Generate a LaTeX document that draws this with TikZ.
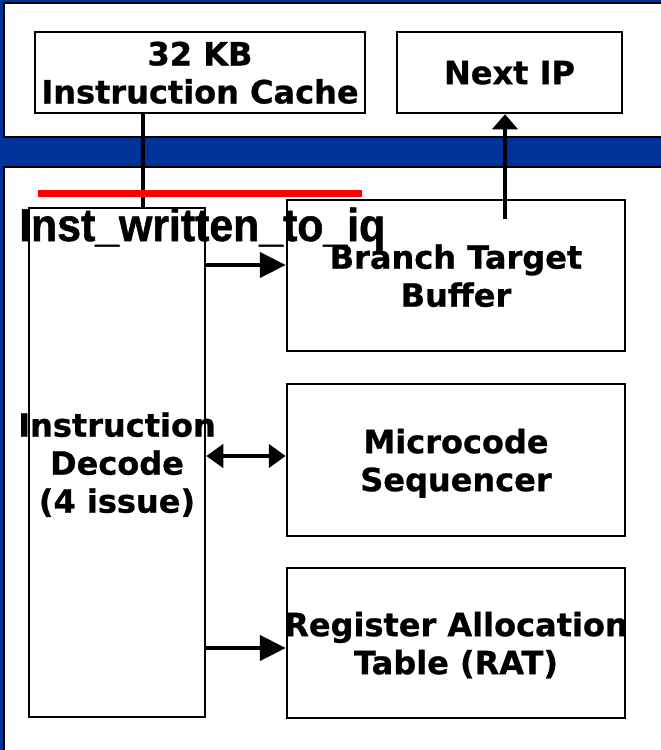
\documentclass[tikz,border=0pt]{standalone}
\usepackage{fontspec}
\usetikzlibrary{arrows.meta}
\newfontfamily\blockfont[FakeBold=0.8]{DejaVu Sans}
\newfontfamily\sigfont[FakeStretch=0.93, FakeBold=1.2]{Liberation Sans}
\definecolor{slideblue}{RGB}{0,51,153}
\definecolor{sigred}{RGB}{255,0,0}
\tikzset{
  panel/.style={fill=white, draw=black, line width=2pt},
  block/.style={draw=black, line width=2.5pt, fill=white, inner sep=0pt, text depth=0pt,
    align=center, font=\blockfont\bfseries\fontsize{32}{38}\selectfont},
  wire/.style={line width=4.5pt},
  conn/.style={line width=4.5pt, -{Triangle[length=26pt,width=25pt]}},
  biconn/.style={line width=4.5pt, {Triangle[length=17pt,width=23pt]}-{Triangle[length=17pt,width=23pt]}},
  upconn/.style={line width=4.5pt, -{Triangle[length=15pt,width=25pt]}},
}
\begin{document}
\begin{tikzpicture}[x=1pt, y=-1pt]
\useasboundingbox (0,0) rectangle (661,750);
% backdrop and the two white panels
\fill[slideblue] (0,0) rectangle (661,750);
\draw[panel] (4,3) rectangle (675,137);
\draw[panel] (4,167) rectangle (675,765);

% front-end blocks
\node[block, minimum width=330pt, minimum height=81pt] (cache) at (200,72.5) {32 KB\\Instruction Cache};
\node[block, minimum width=225pt, minimum height=81pt] (nextip) at (509.5,72.5) {Next IP};
\node[block, minimum width=176pt, minimum height=509pt] (decode) at (117,462.5)
  {\makebox[0pt]{Instruction}\\Decode\\(4 issue)};
\node[block, minimum width=338pt, minimum height=151pt] (btb) at (456,275.5) {Branch Target\\Buffer};
\node[block, minimum width=338pt, minimum height=152pt] (mseq) at (456,460) {Microcode\\Sequencer};
\node[block, minimum width=338pt, minimum height=150pt] (rat) at (456,643)
  {\makebox[0pt]{Register Allocation}\\Table (RAT)};

% tap points for the connectors
\coordinate (cachetap) at (143,113);
\coordinate (btbtap) at (505,219);
\coordinate (btbrow) at (206,265);
\coordinate (msrow) at (206,456);
\coordinate (ratrow) at (206,648);

% fetch line from the cache into decode
\draw[wire] (cache.south -| cachetap) -- (decode.north -| cachetap);
% signal marker
\draw[sigred, line width=7pt] (38,193) -- (362,193);
\node[font=\sigfont\bfseries\fontsize{46}{50}\selectfont, anchor=base west, inner sep=0pt] (iqlabel) at (19,241) {Inst\_written\_to\_iq};

% connectors
\draw[conn] (decode.east |- btbrow) -- (btb.west |- btbrow);
\draw[biconn] (decode.east |- msrow) -- (mseq.west |- msrow);
\draw[conn] (decode.east |- ratrow) -- (rat.west |- ratrow);
\draw[upconn] (btbtap) -- (btbtap |- nextip.south);
\end{tikzpicture}
\end{document}
